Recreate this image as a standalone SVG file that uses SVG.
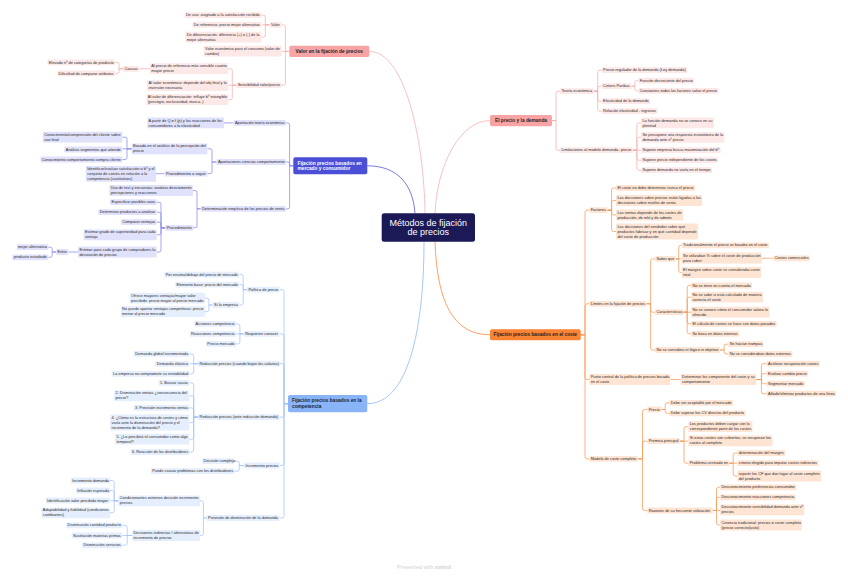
<svg xmlns="http://www.w3.org/2000/svg" width="848" height="576" viewBox="0 0 848 576">
<style>
.t{font-family:"Liberation Sans",Arial,sans-serif;font-size:3.9px;fill:#2b2b2b}
.m{font-family:"Liberation Sans",Arial,sans-serif;font-size:4.8px;font-weight:bold;fill:#1f1f1f}
.ps{fill:#fde8e8}.vs{fill:#e0e1fa}.bs{fill:#e5eefd}.os{fill:#fee4d3}
.pm{fill:#f8a4a4}.vm{fill:#4b4fd6}.bm{fill:#8ab4f8}.om{fill:#fb8334}
.cp{fill:none;stroke:#f6aeae;stroke-width:0.75}
.cv{fill:none;stroke:#868aea;stroke-width:0.75}
.cb{fill:none;stroke:#a3c3f9;stroke-width:0.75}
.co{fill:none;stroke:#fb9a55;stroke-width:0.75}
</style>
<rect width="848" height="576" fill="#ffffff"/>
<g id="connectors">
<path class="cp" d="M369.3,51.4 C405,51.4 424,140 425,213.3" stroke-width="1.2"/>
<path class="cp" d="M435,213.3 C437,165 460,120.6 490,120.6" stroke-width="1.2"/>
<path class="cv" d="M367.3,165.8 C398,165.8 413,185 415,213.3" stroke-width="1.2" style="stroke:#4b4fd6"/>
<path class="cb" d="M367.3,403.7 C408,403.7 424,330 424,241.7" stroke-width="1.2" style="stroke:#8ab4f8"/>
<path class="co" d="M435,241.7 C437,300 452,334.8 490,334.8" stroke-width="1.2" style="stroke:#fb8334"/>
<path class="cp" d="M289.3,51.4 H285.4 V26.9 Q285.4,24.9 283.4,24.9 H281.5 M289.3,51.4 H281.7 M289.3,51.4 H285.4 V83.2 Q285.4,85.2 283.4,85.2 H281"/>
<path class="cp" d="M269.6,24.9 H265.3 V17.2 Q265.3,15.2 263.3,15.2 H261.3 M269.6,24.9 H261.3 M269.6,24.9 H265.3 V35.1 Q265.3,37.1 263.3,37.1 H261.3"/>
<path class="cp" d="M236.3,85.2 H232.3 V70.7 Q232.3,68.7 230.3,68.7 H228.3 M236.3,85.2 H228.3 M236.3,85.2 H232.3 V97.7 Q232.3,99.7 230.3,99.7 H228.3"/>
<path class="cp" d="M149.9,68.8 H139 M123,68.9 H119 V64.4 Q119,62.4 117,62.4 H115 M123,68.9 H119 V71.4 Q119,73.4 117,73.4 H115"/>
<path class="cp" d="M552,120.6 H556 V93.2 Q556,91.2 558,91.2 H560 M552,120.6 H556 V148.2 Q556,150.2 558,150.2 H560"/>
<path class="cp" d="M593.8,91.2 H597.7 V72.2 Q597.7,70.2 599.7,70.2 H601.7 M593.8,91.2 H597.7 V88.2 Q597.7,86.2 599.7,86.2 H601.7 M593.8,91.2 H597.7 V99.2 Q597.7,101.2 599.7,101.2 H601.7 M593.8,91.2 H597.7 V109.2 Q597.7,111.2 599.7,111.2 H601.7"/>
<path class="cp" d="M631.2,86.2 H634.8 V82.6 Q634.8,80.6 636.8,80.6 H638.3 M631.2,86.2 H634.8 V88.8 Q634.8,90.8 636.8,90.8 H638.3"/>
<path class="cp" d="M632.8,150.2 H636.9 V124.9 Q636.9,122.9 638.9,122.9 H641 M632.8,150.2 H636.9 V139.3 Q636.9,137.3 638.9,137.3 H641 M632.8,150.2 H641 M632.8,150.2 H636.9 V158.2 Q636.9,160.2 638.9,160.2 H641 M632.8,150.2 H636.9 V168.2 Q636.9,170.2 638.9,170.2 H641"/>
<path class="cv" d="M293.3,165.8 H289.6 V124.9 Q289.6,122.9 287.6,122.9 H285.8 M293.3,165.8 H289.6 V164 Q289.6,162 287.6,162 H285.8 M293.3,165.8 H289.6 V206.8 Q289.6,208.8 287.6,208.8 H285.8"/>
<path class="cv" d="M233.6,122.9 H224 M216.5,162 H212 V150.8 Q212,148.8 210,148.8 H207.3 M216.5,162 H212 V171.7 Q212,173.7 210,173.7 H207.3"/>
<path class="cv" d="M131.7,148.8 H127 V139.2 Q127,137.2 125,137.2 H122.3 M131.7,148.8 H122.3 M131.7,148.8 H127 V157.5 Q127,159.5 125,159.5 H122.3 M164.6,173.7 H156"/>
<path class="cv" d="M200.8,208.8 H197 V192.5 Q197,190.5 195,190.5 H193 M200.8,208.8 H197 V225.8 Q197,227.8 195,227.8 H193"/>
<path class="cv" d="M165.3,227.8 H161 V204.2 Q161,202.2 159,202.2 H156.7 M165.3,227.8 H161 V214.2 Q161,212.2 159,212.2 H156.7 M165.3,227.8 H161 V224.2 Q161,222.2 159,222.2 H156.7 M165.3,227.8 H161 V232.8 Q161,234.8 159,234.8 H156.7 M165.3,227.8 H161 V250 Q161,252 159,252 H156.7"/>
<path class="cv" d="M78,252 H68.3 M56.2,252 H52.2 V249.2 Q52.2,247.2 50.2,247.2 H48.3 M56.2,252 H52.2 V255.3 Q52.2,257.3 50.2,257.3 H48.3"/>
<path class="cb" d="M288,403.7 H284 V291.6 Q284,289.6 282,289.6 H279.5 M288,403.7 H284 V335.9 Q284,333.9 282,333.9 H279.5 M288,403.7 H284 V365.7 Q284,363.7 282,363.7 H279.5 M288,403.7 H284 V415.2 Q284,417.2 282,417.2 H279.5 M288,403.7 H284 V463.5 Q284,465.5 282,465.5 H279.5 M288,403.7 H284 V516 Q284,518 282,518 H279.5"/>
<path class="cb" d="M247,289.6 H243.2 V276.6 Q243.2,274.6 241.2,274.6 H239.3 M247,289.6 H243.2 V286.6 Q243.2,284.6 241.2,284.6 H239.3 M247,289.6 H243.2 V303 Q243.2,305 241.2,305 H239.3"/>
<path class="cb" d="M212.7,305 H208.9 V300.1 Q208.9,298.1 206.9,298.1 H205 M212.7,305 H208.9 V309.7 Q208.9,311.7 206.9,311.7 H205"/>
<path class="cb" d="M243.8,333.9 H239.9 V325.9 Q239.9,323.9 237.9,323.9 H236 M243.8,333.9 H236 M243.8,333.9 H239.9 V341.9 Q239.9,343.9 237.9,343.9 H236"/>
<path class="cb" d="M198,363.7 H193.7 V355.9 Q193.7,353.9 191.7,353.9 H189.3 M198,363.7 H189.3 M198,363.7 H193.7 V371.9 Q193.7,373.9 191.7,373.9 H189.3"/>
<path class="cb" d="M198.2,417.2 H193.7 V384.9 Q193.7,382.9 191.7,382.9 H189.3 M198.2,417.2 H193.7 V397.8 Q193.7,395.8 191.7,395.8 H189.3 M198.2,417.2 H193.7 V409.9 Q193.7,407.9 191.7,407.9 H189.3 M198.2,417.2 H193.7 V420.5 Q193.7,422.5 191.7,422.5 H189.3 M198.2,417.2 H193.7 V437.2 Q193.7,439.2 191.7,439.2 H189.3 M198.2,417.2 H193.7 V450 Q193.7,452 191.7,452 H189.3"/>
<path class="cb" d="M244,465.5 H239.2 V463.2 Q239.2,461.2 237.2,461.2 H234.3 M244,465.5 H239.2 V469.2 Q239.2,471.2 237.2,471.2 H234.3"/>
<path class="cb" d="M206.7,518 H203.4 V502.8 Q203.4,500.8 201.4,500.8 H200 M206.7,518 H203.4 V533.5 Q203.4,535.5 201.4,535.5 H200"/>
<path class="cb" d="M118.4,500.8 H114.2 V482.5 Q114.2,480.5 112.2,480.5 H110 M118.4,500.8 H114.2 V492.5 Q114.2,490.5 112.2,490.5 H110 M118.4,500.8 H110 M118.4,500.8 H114.2 V510.8 Q114.2,512.8 112.2,512.8 H110"/>
<path class="cb" d="M132.1,535.5 H127.2 V527.3 Q127.2,525.3 125.2,525.3 H122.3 M132.1,535.5 H122.3 M132.1,535.5 H127.2 V543.3 Q127.2,545.3 125.2,545.3 H122.3"/>
<path class="co" d="M580.7,334.8 H585 V212.2 Q585,210.2 587,210.2 H589.3 M580.7,334.8 H585 V305.8 Q585,303.8 587,303.8 H589.3 M580.7,334.8 H585 V377.5 Q585,379.5 587,379.5 H589.3 M580.7,334.8 H585 V456.9 Q585,458.9 587,458.9 H589.3"/>
<path class="co" d="M607.3,210.2 H611.6 V190 Q611.6,188 613.6,188 H616 M607.3,210.2 H611.6 V202.5 Q611.6,200.5 613.6,200.5 H616 M607.3,210.2 H611.6 V213 Q611.6,215 613.6,215 H616 M607.3,210.2 H611.6 V229.5 Q611.6,231.5 613.6,231.5 H616"/>
<path class="co" d="M646.3,303.8 H650.6 V260.9 Q650.6,258.9 652.6,258.9 H655 M646.3,303.8 H650.6 V310.2 Q650.6,312.2 652.6,312.2 H655 M646.3,303.8 H650.6 V348 Q650.6,350 652.6,350 H655"/>
<path class="co" d="M675.8,258.9 H678.7 V247.3 Q678.7,245.3 680.7,245.3 H681.7 M675.8,258.9 H681.7 M675.8,258.9 H678.7 V270.5 Q678.7,272.5 680.7,272.5 H681.7 M761.7,258.2 H773.3"/>
<path class="co" d="M683.4,312.2 H687.2 V287.5 Q687.2,285.5 689.2,285.5 H691 M683.4,312.2 H687.2 V299.2 Q687.2,297.2 689.2,297.2 H691 M683.4,312.2 H691 M683.4,312.2 H687.2 V321.8 Q687.2,323.8 689.2,323.8 H691 M683.4,312.2 H687.2 V331.8 Q687.2,333.8 689.2,333.8 H691"/>
<path class="co" d="M720,350 H724.1 V346.2 Q724.1,344.2 726.1,344.2 H728.3 M720,350 H724.1 V352 Q724.1,354 726.1,354 H728.3"/>
<path class="co" d="M670.4,379.5 H680.7 M756.1,379.5 H761.4 V365.7 Q761.4,363.7 763.4,363.7 H766.7 M756.1,379.5 H761.4 V375.7 Q761.4,373.7 763.4,373.7 H766.7 M756.1,379.5 H761.4 V381.7 Q761.4,383.7 763.4,383.7 H766.7 M756.1,379.5 H761.4 V391.7 Q761.4,393.7 763.4,393.7 H766.7"/>
<path class="co" d="M637.6,458.9 H642.5 V411.5 Q642.5,409.5 644.5,409.5 H647.3 M637.6,458.9 H642.5 V443.2 Q642.5,441.2 644.5,441.2 H647.3 M637.6,458.9 H642.5 V508.5 Q642.5,510.5 644.5,510.5 H647.3"/>
<path class="co" d="M661.2,409.5 H665.2 V404.9 Q665.2,402.9 667.2,402.9 H669.3 M661.2,409.5 H665.2 V411.3 Q665.2,413.3 667.2,413.3 H669.3"/>
<path class="co" d="M679.8,441.2 H684 V428.7 Q684,426.7 686,426.7 H688.3 M679.8,441.2 H688.3 M679.8,441.2 H684 V461.2 Q684,463.2 686,463.2 H688.3"/>
<path class="co" d="M729.2,463.2 H733.2 V455 Q733.2,453 735.2,453 H737.3 M729.2,463.2 H737.3 M729.2,463.2 H733.2 V474 Q733.2,476 735.2,476 H737.3"/>
<path class="co" d="M713,510.5 H716.5 V489.3 Q716.5,487.3 718.5,487.3 H720 M713,510.5 H716.5 V499.3 Q716.5,497.3 718.5,497.3 H720 M713,510.5 H720 M713,510.5 H716.5 V523 Q716.5,525 718.5,525 H720"/>
</g>
<g id="center" transform="translate(381.7,213.3)"><rect width="93.3" height="28.4" rx="2.5" fill="#1b1a57"/><text x="46.6" y="12.7" text-anchor="middle" style="font-family:'Liberation Sans',Arial,sans-serif;font-size:9px;fill:#ffffff">Métodos de fijación<tspan x="46.6" dy="9.4">de precios</tspan></text></g>
<g id="valor-fijacion" transform="translate(289.3,45.7)"><rect class="pm" width="80" height="11.4" rx="1.8"/><text class="m" x="40" y="7.4" text-anchor="middle">Valor en la fijación de precios</text></g>
<g id="valor" transform="translate(269.6,22)"><rect class="ps" width="11.9" height="5.8" rx="1.2"/><text class="t" x="1.4" y="4.1">Valor</text></g>
<g id="de-uso" transform="translate(184.6,12.3)"><rect class="ps" width="76.7" height="5.8" rx="1.2"/><text class="t" x="1.4" y="4.1">De uso: asignado a la satisfacción recibida</text></g>
<g id="de-referencia" transform="translate(192.4,21.7)"><rect class="ps" width="68.9" height="5.8" rx="1.2"/><text class="t" x="1.4" y="4.1">De referencia: precio mejor alternativa</text></g>
<g id="de-diferenciacion" transform="translate(185.3,31.7)"><rect class="ps" width="76" height="10.8" rx="1.2"/><text class="t" x="1.4" y="4.1">De diferenciación: diferencia (+) o (-) de la<tspan x="1.4" dy="5">mejor alternativa</tspan></text></g>
<g id="valor-economico" transform="translate(203.7,45.7)"><rect class="ps" width="78" height="10.8" rx="1.2"/><text class="t" x="1.4" y="4.1">Valor económico para el consumo (valor de<tspan x="1.4" dy="5">cambio)</tspan></text></g>
<g id="sensibilidad" transform="translate(236.3,82.3)"><rect class="ps" width="44.7" height="5.8" rx="1.2"/><text class="t" x="1.4" y="4.1">Sensibilidad valor/precio</text></g>
<g id="sens-1" transform="translate(149.9,63.3)"><rect class="ps" width="78.4" height="10.8" rx="1.2"/><text class="t" x="1.4" y="4.1">Al precio de referencia más sensible cuanto<tspan x="1.4" dy="5">mayor precio</tspan></text></g>
<g id="sens-2" transform="translate(147.2,80.3)"><rect class="ps" width="81.1" height="10.8" rx="1.2"/><text class="t" x="1.4" y="4.1">Al valor económico: depende del obj final y la<tspan x="1.4" dy="5">inversión necesaria</tspan></text></g>
<g id="sens-3" transform="translate(146.4,94.3)"><rect class="ps" width="81.9" height="10.8" rx="1.2"/><text class="t" x="1.4" y="4.1">Al valor de diferenciación: influye bº intangible<tspan x="1.4" dy="5">(prestigio, exclusividad, marca..)</tspan></text></g>
<g id="causas" transform="translate(123,66)"><rect class="ps" width="16" height="5.8" rx="1.2"/><text class="t" x="1.4" y="4.1">Causas</text></g>
<g id="elevado" transform="translate(47.3,59.5)"><rect class="ps" width="67.7" height="5.8" rx="1.2"/><text class="t" x="1.4" y="4.1">Elevado nº de categorías de producto</text></g>
<g id="dificultad" transform="translate(57.1,70.5)"><rect class="ps" width="57.9" height="5.8" rx="1.2"/><text class="t" x="1.4" y="4.1">Dificultad de comparar atributos</text></g>
<g id="precio-demanda" transform="translate(490,115)"><rect class="pm" width="62" height="11.2" rx="1.8"/><text class="m" x="31" y="7.3" text-anchor="middle">El precio y la demanda</text></g>
<g id="teoria" transform="translate(560,88.3)"><rect class="ps" width="33.8" height="5.8" rx="1.2"/><text class="t" x="1.4" y="4.1">Teoría económica</text></g>
<g id="limitaciones" transform="translate(560,147.3)"><rect class="ps" width="72.8" height="5.8" rx="1.2"/><text class="t" x="1.4" y="4.1">Limitaciones al modelo demanda- precio</text></g>
<g id="regulador" transform="translate(601.7,67.3)"><rect class="ps" width="85.6" height="5.8" rx="1.2"/><text class="t" x="1.4" y="4.1">Precio regulador de la demanda (Ley demanda)</text></g>
<g id="ceteris" transform="translate(601.7,83.3)"><rect class="ps" width="29.5" height="5.8" rx="1.2"/><text class="t" x="1.4" y="4.1">Ceteris Paribus</text></g>
<g id="funcion" transform="translate(638.3,77.7)"><rect class="ps" width="55.9" height="5.8" rx="1.2"/><text class="t" x="1.4" y="4.1">Función decreciente del precio</text></g>
<g id="constantes" transform="translate(638.3,87.9)"><rect class="ps" width="80.2" height="5.8" rx="1.2"/><text class="t" x="1.4" y="4.1">Constantes todos los factores salvo el precio</text></g>
<g id="elasticidad" transform="translate(601.7,98.3)"><rect class="ps" width="48.5" height="5.8" rx="1.2"/><text class="t" x="1.4" y="4.1">Elasticidad de la demanda</text></g>
<g id="relacion" transform="translate(601.7,108.3)"><rect class="ps" width="55.7" height="5.8" rx="1.2"/><text class="t" x="1.4" y="4.1">Relación elasticidad - ingresos</text></g>
<g id="lim-1" transform="translate(641,117.5)"><rect class="ps" width="73" height="10.8" rx="1.2"/><text class="t" x="1.4" y="4.1">La función demanda no se conoce en su<tspan x="1.4" dy="5">plenitud</tspan></text></g>
<g id="lim-2" transform="translate(641,131.9)"><rect class="ps" width="83.3" height="10.8" rx="1.2"/><text class="t" x="1.4" y="4.1">Se presupone una respuesta instantánea de la<tspan x="1.4" dy="5">demanda ante vº precio</tspan></text></g>
<g id="lim-3" transform="translate(641,147.3)"><rect class="ps" width="79.7" height="5.8" rx="1.2"/><text class="t" x="1.4" y="4.1">Supone empresa busca maximización del bº</text></g>
<g id="lim-4" transform="translate(641,157.3)"><rect class="ps" width="76.9" height="5.8" rx="1.2"/><text class="t" x="1.4" y="4.1">Supone precio independiente de los costes</text></g>
<g id="lim-5" transform="translate(641,167.3)"><rect class="ps" width="71.1" height="5.8" rx="1.2"/><text class="t" x="1.4" y="4.1">Supone demanda no varía en el tiempo</text></g>
<g id="mercado" transform="translate(293.3,157.3)"><rect class="vm" width="74" height="17" rx="1.8"/><text class="m" x="4.2" y="7.3" style="fill:#ffffff">Fijación precios basados en<tspan x="4.2" dy="5.9">mercado y consumidor</tspan></text></g>
<g id="aport-teoria" transform="translate(233.6,120)"><rect class="vs" width="52.2" height="5.8" rx="1.2"/><text class="t" x="1.4" y="4.1">Aportación teoría económica</text></g>
<g id="a-partir" transform="translate(147.2,117.5)"><rect class="vs" width="76.8" height="10.8" rx="1.2"/><text class="t" x="1.4" y="4.1">A partir de Q = f (p) y las reacciones de los<tspan x="1.4" dy="5">consumidores a la elasticidad</tspan></text></g>
<g id="aport-ciencias" transform="translate(216.5,159.1)"><rect class="vs" width="69.3" height="5.8" rx="1.2"/><text class="t" x="1.4" y="4.1">Aportaciones ciencias comportamiento</text></g>
<g id="basada" transform="translate(131.7,143.4)"><rect class="vs" width="75.6" height="10.8" rx="1.2"/><text class="t" x="1.4" y="4.1">Basada en el análisis de la percepción del<tspan x="1.4" dy="5">precio</tspan></text></g>
<g id="conocimiento-uso" transform="translate(42.8,131.8)"><rect class="vs" width="79.5" height="10.8" rx="1.2"/><text class="t" x="1.4" y="4.1">Conocimiento/comprensión del cliente sobre<tspan x="1.4" dy="5">uso final</tspan></text></g>
<g id="analisis" transform="translate(64.4,146.6)"><rect class="vs" width="57.9" height="5.8" rx="1.2"/><text class="t" x="1.4" y="4.1">Análisis segmentos que atiende</text></g>
<g id="conocimiento-compra" transform="translate(40.4,156.6)"><rect class="vs" width="81.9" height="5.8" rx="1.2"/><text class="t" x="1.4" y="4.1">Conocimiento comportamiento compra cliente</text></g>
<g id="proc-seguir" transform="translate(164.6,170.8)"><rect class="vs" width="42.7" height="5.8" rx="1.2"/><text class="t" x="1.4" y="4.1">Procedimiento a seguir</text></g>
<g id="identificar" transform="translate(85.9,166)"><rect class="vs" width="70.1" height="15.8" rx="1.2"/><text class="t" x="1.4" y="4.1">Identificar/evaluar satisfacción o bº y el<tspan x="1.4" dy="5">conjunto de costes en relación a la</tspan><tspan x="1.4" dy="5">competencia (sustitutivos)</tspan></text></g>
<g id="determinacion" transform="translate(200.8,205.9)"><rect class="vs" width="85" height="5.8" rx="1.2"/><text class="t" x="1.4" y="4.1">Determinación empírica de los precios de venta</text></g>
<g id="uso-test" transform="translate(109.3,185.1)"><rect class="vs" width="83.7" height="10.8" rx="1.2"/><text class="t" x="1.4" y="4.1">Uso de test y encuestas: analizar directamente<tspan x="1.4" dy="5">percepciones y reacciones</tspan></text></g>
<g id="procedimiento" transform="translate(165.3,224.9)"><rect class="vs" width="27.7" height="5.8" rx="1.2"/><text class="t" x="1.4" y="4.1">Procedimiento</text></g>
<g id="especificar" transform="translate(110.1,199.3)"><rect class="vs" width="46.6" height="5.8" rx="1.2"/><text class="t" x="1.4" y="4.1">Especificar posibles usos</text></g>
<g id="determinar-productos" transform="translate(98.4,209.3)"><rect class="vs" width="58.3" height="5.8" rx="1.2"/><text class="t" x="1.4" y="4.1">Determinar productos a analizar</text></g>
<g id="comparar" transform="translate(121,219.3)"><rect class="vs" width="35.7" height="5.8" rx="1.2"/><text class="t" x="1.4" y="4.1">Comparar ventajas</text></g>
<g id="estimar-grado" transform="translate(83.6,229.4)"><rect class="vs" width="73.1" height="10.8" rx="1.2"/><text class="t" x="1.4" y="4.1">Estimar grado de superioridad para cada<tspan x="1.4" dy="5">ventaja</tspan></text></g>
<g id="estimar-grupo" transform="translate(78,246.6)"><rect class="vs" width="78.7" height="10.8" rx="1.2"/><text class="t" x="1.4" y="4.1">Estimar para cada grupo de compradores la<tspan x="1.4" dy="5">desviación de precios</tspan></text></g>
<g id="entre" transform="translate(56.2,249.1)"><rect class="vs" width="12.1" height="5.8" rx="1.2"/><text class="t" x="1.4" y="4.1">Entre</text></g>
<g id="mejor-alt" transform="translate(16.7,244.3)"><rect class="vs" width="31.6" height="5.8" rx="1.2"/><text class="t" x="1.4" y="4.1">mejor alternativa</text></g>
<g id="producto-est" transform="translate(12.3,254.4)"><rect class="vs" width="36" height="5.8" rx="1.2"/><text class="t" x="1.4" y="4.1">producto estudiado</text></g>
<g id="competencia" transform="translate(288,395)"><rect class="bm" width="79.3" height="17.3" rx="1.8"/><text class="m" x="4" y="7.4">Fijación precios basados en la<tspan x="4" dy="6">competencia</tspan></text></g>
<g id="politica" transform="translate(247,286.7)"><rect class="bs" width="32.5" height="5.8" rx="1.2"/><text class="t" x="1.4" y="4.1">Política de precio</text></g>
<g id="por-encima" transform="translate(164.3,271.7)"><rect class="bs" width="75" height="5.8" rx="1.2"/><text class="t" x="1.4" y="4.1">Por encima/debajo del precio de mercado</text></g>
<g id="elemento" transform="translate(175.2,281.7)"><rect class="bs" width="64.1" height="5.8" rx="1.2"/><text class="t" x="1.4" y="4.1">Elemento base: precio del mercado</text></g>
<g id="si-empresa" transform="translate(212.7,302.1)"><rect class="bs" width="26.6" height="5.8" rx="1.2"/><text class="t" x="1.4" y="4.1">Si la empresa</text></g>
<g id="ofrece" transform="translate(129.6,292.7)"><rect class="bs" width="75.4" height="10.8" rx="1.2"/><text class="t" x="1.4" y="4.1">Ofrece mayores ventajas/mayor valor<tspan x="1.4" dy="5">percibido: precio mayor al precio mercado</tspan></text></g>
<g id="no-puede" transform="translate(120.7,306.3)"><rect class="bs" width="84.3" height="10.8" rx="1.2"/><text class="t" x="1.4" y="4.1">No puede aportar ventajas competitivas: precio<tspan x="1.4" dy="5">menor al precio mercado</tspan></text></g>
<g id="requieren" transform="translate(243.8,331)"><rect class="bs" width="35.7" height="5.8" rx="1.2"/><text class="t" x="1.4" y="4.1">Requieren conocer</text></g>
<g id="acciones" transform="translate(194.2,321)"><rect class="bs" width="41.8" height="5.8" rx="1.2"/><text class="t" x="1.4" y="4.1">Acciones competencia</text></g>
<g id="reacciones" transform="translate(189.6,331)"><rect class="bs" width="46.4" height="5.8" rx="1.2"/><text class="t" x="1.4" y="4.1">Reacciones competencia</text></g>
<g id="precio-mercado" transform="translate(205.9,341)"><rect class="bs" width="30.1" height="5.8" rx="1.2"/><text class="t" x="1.4" y="4.1">Precio mercado</text></g>
<g id="reduccion-salarios" transform="translate(198,360.8)"><rect class="bs" width="81.5" height="5.8" rx="1.2"/><text class="t" x="1.4" y="4.1">Reducción precios (cuando bajan los salarios)</text></g>
<g id="demanda-global" transform="translate(133.8,351)"><rect class="bs" width="55.5" height="5.8" rx="1.2"/><text class="t" x="1.4" y="4.1">Demanda global incrementada</text></g>
<g id="demanda-elastica" transform="translate(155.3,361)"><rect class="bs" width="34" height="5.8" rx="1.2"/><text class="t" x="1.4" y="4.1">Demanda elástica</text></g>
<g id="no-compromete" transform="translate(111.7,371)"><rect class="bs" width="77.6" height="5.8" rx="1.2"/><text class="t" x="1.4" y="4.1">La empresa no compromete su rentabilidad</text></g>
<g id="reduccion-demanda" transform="translate(198.2,414.3)"><rect class="bs" width="81.3" height="5.8" rx="1.2"/><text class="t" x="1.4" y="4.1">Reducción precios (ante reducción demanda)</text></g>
<g id="paso-1" transform="translate(158.5,380)"><rect class="bs" width="30.8" height="5.8" rx="1.2"/><text class="t" x="1.4" y="4.1">1. Buscar causa</text></g>
<g id="paso-2" transform="translate(114,390.4)"><rect class="bs" width="75.3" height="10.8" rx="1.2"/><text class="t" x="1.4" y="4.1">2. Disminución ventas ¿consecuencia del<tspan x="1.4" dy="5">precio?</tspan></text></g>
<g id="paso-3" transform="translate(133.6,405)"><rect class="bs" width="55.7" height="5.8" rx="1.2"/><text class="t" x="1.4" y="4.1">3. Previsión incremento ventas</text></g>
<g id="paso-4" transform="translate(110.2,414.6)"><rect class="bs" width="79.1" height="15.8" rx="1.2"/><text class="t" x="1.4" y="4.1">4. ¿Cómo es la estructura de costes y cómo<tspan x="1.4" dy="5">varía ante la disminución del precio y el</tspan><tspan x="1.4" dy="5">incremento de la demanda?</tspan></text></g>
<g id="paso-5" transform="translate(115,433.8)"><rect class="bs" width="74.3" height="10.8" rx="1.2"/><text class="t" x="1.4" y="4.1">5. ¿Lo percibirá el consumidor como algo<tspan x="1.4" dy="5">temporal?</tspan></text></g>
<g id="paso-6" transform="translate(130.5,449.1)"><rect class="bs" width="58.8" height="5.8" rx="1.2"/><text class="t" x="1.4" y="4.1">6. Reacción de los distribuidores</text></g>
<g id="incremento" transform="translate(244,462.6)"><rect class="bs" width="35.5" height="5.8" rx="1.2"/><text class="t" x="1.4" y="4.1">Incremento precios</text></g>
<g id="decision-compleja" transform="translate(202.2,458.3)"><rect class="bs" width="32.1" height="5.8" rx="1.2"/><text class="t" x="1.4" y="4.1">Decisión compleja</text></g>
<g id="problemas" transform="translate(150.8,468.3)"><rect class="bs" width="83.5" height="5.8" rx="1.2"/><text class="t" x="1.4" y="4.1">Puede causar problemas con los distribuidores</text></g>
<g id="prevision" transform="translate(206.7,515.1)"><rect class="bs" width="72.8" height="5.8" rx="1.2"/><text class="t" x="1.4" y="4.1">Previsión de disminución de la demanda</text></g>
<g id="condicionantes" transform="translate(118.4,495.4)"><rect class="bs" width="81.6" height="10.8" rx="1.2"/><text class="t" x="1.4" y="4.1">Condicionantes externos decisión incremento<tspan x="1.4" dy="5">precios</tspan></text></g>
<g id="inc-demanda" transform="translate(70.8,477.6)"><rect class="bs" width="39.2" height="5.8" rx="1.2"/><text class="t" x="1.4" y="4.1">Incremento demanda</text></g>
<g id="inflacion" transform="translate(75.9,487.6)"><rect class="bs" width="34.1" height="5.8" rx="1.2"/><text class="t" x="1.4" y="4.1">Inflación esperada</text></g>
<g id="identificacion" transform="translate(45.7,497.6)"><rect class="bs" width="64.3" height="5.8" rx="1.2"/><text class="t" x="1.4" y="4.1">Identificación valor percibido mayor</text></g>
<g id="adaptabilidad" transform="translate(41.4,507.4)"><rect class="bs" width="68.6" height="10.8" rx="1.2"/><text class="t" x="1.4" y="4.1">Adaptabilidad y fiabilidad (condiciones<tspan x="1.4" dy="5">cambiantes)</tspan></text></g>
<g id="decisiones-ind" transform="translate(132.1,530.1)"><rect class="bs" width="67.9" height="10.8" rx="1.2"/><text class="t" x="1.4" y="4.1">Decisiones indirectas / alternativas de<tspan x="1.4" dy="5">incremento de precios</tspan></text></g>
<g id="dism-cantidad" transform="translate(66.2,522.4)"><rect class="bs" width="56.1" height="5.8" rx="1.2"/><text class="t" x="1.4" y="4.1">Disminución cantidad producto</text></g>
<g id="sustitucion" transform="translate(71.6,532.6)"><rect class="bs" width="50.7" height="5.8" rx="1.2"/><text class="t" x="1.4" y="4.1">Sustitución materias primas</text></g>
<g id="dism-servicios" transform="translate(82,542.4)"><rect class="bs" width="40.3" height="5.8" rx="1.2"/><text class="t" x="1.4" y="4.1">Disminución servicios</text></g>
<g id="coste" transform="translate(490,329.3)"><rect class="om" width="90.7" height="11" rx="1.8"/><text class="m" x="45.3" y="7.2" text-anchor="middle">Fijación precios basados en el coste</text></g>
<g id="factores" transform="translate(589.3,207.3)"><rect class="os" width="18" height="5.8" rx="1.2"/><text class="t" x="1.4" y="4.1">Factores</text></g>
<g id="fac-1" transform="translate(616,185.1)"><rect class="os" width="79.1" height="5.8" rx="1.2"/><text class="t" x="1.4" y="4.1">El coste no debe determinar nunca el precio</text></g>
<g id="fac-2" transform="translate(616,195.1)"><rect class="os" width="86.1" height="10.8" rx="1.2"/><text class="t" x="1.4" y="4.1">Las decisiones sobre precios están ligadas a las<tspan x="1.4" dy="5">decisiones sobre niveles de venta</tspan></text></g>
<g id="fac-3" transform="translate(616,209.6)"><rect class="os" width="67.2" height="10.8" rx="1.2"/><text class="t" x="1.4" y="4.1">Las ventas depende de los costes de<tspan x="1.4" dy="5">producción, de mkt y de admón</tspan></text></g>
<g id="fac-4" transform="translate(616,223.6)"><rect class="os" width="82.1" height="15.8" rx="1.2"/><text class="t" x="1.4" y="4.1">Las decisiones del vendedor sobre qué<tspan x="1.4" dy="5">productos fabricar y en qué cantidad depende</tspan><tspan x="1.4" dy="5">del coste de producción</tspan></text></g>
<g id="limites" transform="translate(589.3,300.9)"><rect class="os" width="57" height="5.8" rx="1.2"/><text class="t" x="1.4" y="4.1">Límites en la fijación de precios</text></g>
<g id="saber-que" transform="translate(655,256)"><rect class="os" width="20.8" height="5.8" rx="1.2"/><text class="t" x="1.4" y="4.1">Saber que</text></g>
<g id="sq-1" transform="translate(681.7,242.4)"><rect class="os" width="87.2" height="5.8" rx="1.2"/><text class="t" x="1.4" y="4.1">Tradicionalmente el precio se basaba en el coste</text></g>
<g id="sq-2" transform="translate(681.7,252.6)"><rect class="os" width="80" height="10.8" rx="1.2"/><text class="t" x="1.4" y="4.1">Se utilizaban % sobre el coste de producción<tspan x="1.4" dy="5">para cubrir</tspan></text></g>
<g id="costes-comerciales" transform="translate(773.3,255.4)"><rect class="os" width="36.8" height="5.8" rx="1.2"/><text class="t" x="1.4" y="4.1">Costes comerciales</text></g>
<g id="sq-3" transform="translate(681.7,267.1)"><rect class="os" width="79.5" height="10.8" rx="1.2"/><text class="t" x="1.4" y="4.1">El margen sobre coste se consideraba coste<tspan x="1.4" dy="5">total</tspan></text></g>
<g id="caracteristicas" transform="translate(655,309.3)"><rect class="os" width="28.4" height="5.8" rx="1.2"/><text class="t" x="1.4" y="4.1">Características</text></g>
<g id="car-1" transform="translate(691,282.6)"><rect class="os" width="61.1" height="5.8" rx="1.2"/><text class="t" x="1.4" y="4.1">No se tiene en cuenta el mercado</text></g>
<g id="car-2" transform="translate(691,291.8)"><rect class="os" width="71.9" height="10.8" rx="1.2"/><text class="t" x="1.4" y="4.1">No se sabe si está calculado de manera<tspan x="1.4" dy="5">correcta el coste</tspan></text></g>
<g id="car-3" transform="translate(691,306.8)"><rect class="os" width="78.4" height="10.8" rx="1.2"/><text class="t" x="1.4" y="4.1">No se conoce cómo el consumidor valora lo<tspan x="1.4" dy="5">ofrecido</tspan></text></g>
<g id="car-4" transform="translate(691,320.9)"><rect class="os" width="85.6" height="5.8" rx="1.2"/><text class="t" x="1.4" y="4.1">El cálculo de costes se hace con datos pasados</text></g>
<g id="car-5" transform="translate(691,330.9)"><rect class="os" width="48.1" height="5.8" rx="1.2"/><text class="t" x="1.4" y="4.1">Se basa en datos internos</text></g>
<g id="no-considera" transform="translate(655,347.1)"><rect class="os" width="65" height="5.8" rx="1.2"/><text class="t" x="1.4" y="4.1">No se considera ni lógico ni objetivo</text></g>
<g id="trampas" transform="translate(728.3,341.3)"><rect class="os" width="35.3" height="5.8" rx="1.2"/><text class="t" x="1.4" y="4.1">Se hacían trampas</text></g>
<g id="externos" transform="translate(728.3,351.1)"><rect class="os" width="64.1" height="5.8" rx="1.2"/><text class="t" x="1.4" y="4.1">No se consideraban datos externos</text></g>
<g id="punto-central" transform="translate(589.3,374.1)"><rect class="os" width="81.1" height="10.8" rx="1.2"/><text class="t" x="1.4" y="4.1">Punto central de la política de precios basada<tspan x="1.4" dy="5">en el coste</tspan></text></g>
<g id="determinar-comp" transform="translate(680.7,374.1)"><rect class="os" width="75.4" height="10.8" rx="1.2"/><text class="t" x="1.4" y="4.1">Determinar los componente del coste y su<tspan x="1.4" dy="5">comportamiento</tspan></text></g>
<g id="acelerar" transform="translate(766.7,360.8)"><rect class="os" width="53.1" height="5.8" rx="1.2"/><text class="t" x="1.4" y="4.1">Acelerar recuperación costes</text></g>
<g id="evaluar" transform="translate(766.7,370.8)"><rect class="os" width="41.4" height="5.8" rx="1.2"/><text class="t" x="1.4" y="4.1">Evaluar cambio precio</text></g>
<g id="segmentar" transform="translate(766.7,380.8)"><rect class="os" width="38.1" height="5.8" rx="1.2"/><text class="t" x="1.4" y="4.1">Segmentar mercado</text></g>
<g id="anadir" transform="translate(766.7,390.8)"><rect class="os" width="69.3" height="5.8" rx="1.2"/><text class="t" x="1.4" y="4.1">Añadir/eliminar productos de una línea</text></g>
<g id="modelo" transform="translate(589.3,456)"><rect class="os" width="48.3" height="5.8" rx="1.2"/><text class="t" x="1.4" y="4.1">Modelo de coste completo</text></g>
<g id="precio" transform="translate(647.3,406.6)"><rect class="os" width="13.9" height="5.8" rx="1.2"/><text class="t" x="1.4" y="4.1">Precio</text></g>
<g id="aceptable" transform="translate(669.3,400)"><rect class="os" width="63.7" height="5.8" rx="1.2"/><text class="t" x="1.4" y="4.1">Debe ser aceptable por el mercado</text></g>
<g id="superar" transform="translate(669.3,410.4)"><rect class="os" width="76.3" height="5.8" rx="1.2"/><text class="t" x="1.4" y="4.1">Debe superar los CV directos del producto</text></g>
<g id="premisa" transform="translate(647.3,438.3)"><rect class="os" width="32.5" height="5.8" rx="1.2"/><text class="t" x="1.4" y="4.1">Premisa principal</text></g>
<g id="prem-1" transform="translate(688.3,421.3)"><rect class="os" width="64.1" height="10.8" rx="1.2"/><text class="t" x="1.4" y="4.1">Los productos deben cargar con la<tspan x="1.4" dy="5">correspondiente parte de los costes</tspan></text></g>
<g id="prem-2" transform="translate(688.3,435.4)"><rect class="os" width="84.1" height="10.8" rx="1.2"/><text class="t" x="1.4" y="4.1">Si estos costes son cubiertos, se recuperan los<tspan x="1.4" dy="5">costes al completo</tspan></text></g>
<g id="problema" transform="translate(688.3,460.3)"><rect class="os" width="40.9" height="5.8" rx="1.2"/><text class="t" x="1.4" y="4.1">Problema centrado en</text></g>
<g id="margen" transform="translate(737.3,450.1)"><rect class="os" width="47.9" height="5.8" rx="1.2"/><text class="t" x="1.4" y="4.1">determinación del margen</text></g>
<g id="criterio" transform="translate(737.3,460.3)"><rect class="os" width="81.3" height="5.8" rx="1.2"/><text class="t" x="1.4" y="4.1">criterio elegido para imputar costes indirectos</text></g>
<g id="repartir" transform="translate(737.3,470.6)"><rect class="os" width="83.9" height="10.8" rx="1.2"/><text class="t" x="1.4" y="4.1">repartir los CF que dan lugar al coste completo<tspan x="1.4" dy="5">del producto</tspan></text></g>
<g id="razones" transform="translate(647.3,507.6)"><rect class="os" width="65.7" height="5.8" rx="1.2"/><text class="t" x="1.4" y="4.1">Razones de su frecuente utilización</text></g>
<g id="raz-1" transform="translate(720,484.4)"><rect class="os" width="76.5" height="5.8" rx="1.2"/><text class="t" x="1.4" y="4.1">Desconocimiento preferencias consumidor</text></g>
<g id="raz-2" transform="translate(720,494.4)"><rect class="os" width="75.8" height="5.8" rx="1.2"/><text class="t" x="1.4" y="4.1">Desconocimiento reacciones competencia</text></g>
<g id="raz-3" transform="translate(720,504.4)"><rect class="os" width="84.3" height="10.8" rx="1.2"/><text class="t" x="1.4" y="4.1">Desconocimiento sensibilidad demanda ante vº<tspan x="1.4" dy="5">precios</tspan></text></g>
<g id="raz-4" transform="translate(720,519.6)"><rect class="os" width="81.7" height="10.8" rx="1.2"/><text class="t" x="1.4" y="4.1">Creencia tradicional: precios = coste completo<tspan x="1.4" dy="5">(precio correcto/justo)</tspan></text></g>
<text x="424" y="569" text-anchor="middle" style="font-family:'Liberation Sans',Arial,sans-serif;font-size:5.5px;fill:#d2d2d2">Presented with <tspan font-weight="bold">xmind</tspan></text>
</svg>
